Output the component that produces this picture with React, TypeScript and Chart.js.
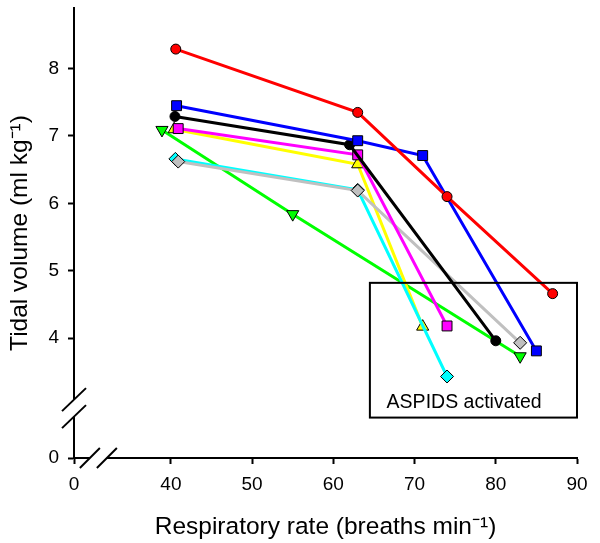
import React, { useEffect, useRef } from 'react';
import { Chart, registerables } from 'chart.js';

Chart.register(...registerables);

// ---------- data ----------
const redX = [40.6, 63.0, 74.0, 87.0];
const redY = [8.29, 7.35, 6.1, 4.66];
const blueX = [40.7, 63.0, 71.0, 85.0];
const blueY = [7.45, 6.93, 6.71, 3.81];
const blackX = [40.5, 62.0, 80.0];
const blackY = [7.29, 6.87, 3.96];
const magentaX = [40.9, 63.0, 74.0];
const magentaY = [7.11, 6.72, 4.18];
const grayX = [40.9, 63.0, 83.0];
const grayY = [6.62, 6.19, 3.93];
const cyanX = [40.55, 63.0, 74.0];
const cyanY = [6.66, 6.2, 3.43];
const yellowX = [40.4, 63.0, 71.0];
const yellowY = [7.1, 6.58, 4.17];
const greenX = [38.9, 55.0, 83.0];
const greenY = [7.09, 5.84, 3.73];

const xTickValues = [0, 40, 50, 60, 70, 80, 90];
const yTickValues = [0, 4, 5, 6, 7, 8];

const xTitle = 'Respiratory rate (breaths min\u207B\u00B9)';
const yTitle = 'Tidal volume (ml kg\u207B\u00B9)';
const boxLabel = 'ASPIDS activated';
const boxX = [64.5, 90];
const boxY = [2.82, 4.82];
const boxLabelX = 76.1;
const boxLabelY = 3.04;

// ---------- broken-axis mapping ----------
const X_ZERO_AT = 28.07; // display position of x = 0 (axis break)
const Y_ZERO_AT = 2.22; // display position of y = 0 (axis break)
const X_MAX = 90;
const Y_MAX = 8.9;
const X_BREAK_AT = 31.07;
const Y_BREAK_AT = 2.96;

const toDX = (v: number) => (v === 0 ? X_ZERO_AT : v);
const toDY = (v: number) => (v === 0 ? Y_ZERO_AT : v);

const FONT = "'Liberation Sans', Arial, Helvetica, sans-serif";

const pts = (xs: number[], ys: number[]) => xs.map((x, i) => ({ x, y: ys[i] }));

function ds(label: string, xs: number[], ys: number[], color: string, style: string, radius: number, rotation = 0) {
  return {
    label,
    data: pts(xs, ys),
    borderColor: color,
    backgroundColor: color,
    borderWidth: 3,
    pointStyle: style,
    pointRadius: radius,
    pointRotation: rotation,
    pointBackgroundColor: color,
    pointBorderColor: '#000',
    pointBorderWidth: 1,
    showLine: true,
    tension: 0,
    fill: false,
  };
}

const extrasPlugin = {
  id: 'extras',
  afterDraw(chart: any) {
    const { ctx, scales } = chart;
    const x = scales.x;
    const y = scales.y;
    ctx.save();
    // annotation box
    const bx0 = x.getPixelForValue(boxX[0]);
    const bx1 = x.getPixelForValue(boxX[1]);
    const by0 = y.getPixelForValue(boxY[1]);
    const by1 = y.getPixelForValue(boxY[0]);
    ctx.strokeStyle = '#000';
    ctx.lineWidth = 2;
    ctx.strokeRect(bx0, by0, bx1 - bx0, by1 - by0);
    ctx.fillStyle = '#000';
    ctx.font = `19.5px ${FONT}`;
    ctx.textAlign = 'center';
    ctx.textBaseline = 'middle';
    ctx.fillText(boxLabel, x.getPixelForValue(boxLabelX), y.getPixelForValue(boxLabelY));

    // y-axis break
    const ax = x.left;
    const yb = y.getPixelForValue(Y_BREAK_AT);
    ctx.fillStyle = '#fff';
    ctx.fillRect(ax - 3, yb - 8.5, 6, 17);
    ctx.strokeStyle = '#000';
    ctx.lineWidth = 2;
    for (const d of [-8.5, 8.5]) {
      ctx.beginPath();
      ctx.moveTo(ax - 12, yb + d + 11.5);
      ctx.lineTo(ax + 12, yb + d - 11.5);
      ctx.stroke();
    }
    // x-axis break
    const ay = y.bottom;
    const xb = x.getPixelForValue(X_BREAK_AT);
    ctx.fillStyle = '#fff';
    ctx.fillRect(xb - 8.5, ay - 3, 17, 6);
    for (const d of [-8.5, 8.5]) {
      ctx.beginPath();
      ctx.moveTo(xb + d - 10, ay + 10);
      ctx.lineTo(xb + d + 10, ay - 10);
      ctx.stroke();
    }
    ctx.restore();
  },
};

export default function App() {
  const ref = useRef<HTMLCanvasElement | null>(null);
  useEffect(() => {
    if (!ref.current) return;
    const chart = new Chart(ref.current, {
      type: 'line',
      data: {
        datasets: [
          ds('Red', redX, redY, '#ff0000', 'circle', 5),
          ds('Blue', blueX, blueY, '#0000ff', 'rect', 7),
          ds('Black', blackX, blackY, '#000000', 'circle', 5),
          ds('Magenta', magentaX, magentaY, '#ff00ff', 'rect', 7),
          ds('Gray', grayX, grayY, '#c0c0c0', 'rectRot', 6.5),
          ds('Cyan', cyanX, cyanY, '#00ffff', 'rectRot', 6.5),
          ds('Yellow', yellowX, yellowY, '#ffff00', 'triangle', 7),
          ds('Green', greenX, greenY, '#00ff00', 'triangle', 7, 180),
        ] as any,
      },
      options: {
        animation: false,
        responsive: false,
        maintainAspectRatio: false,
        layout: { padding: { top: 5, right: 23, left: 0, bottom: 0 } },
        plugins: { legend: { display: false }, tooltip: { enabled: false } },
        scales: {
          x: {
            type: 'linear',
            min: X_ZERO_AT,
            max: X_MAX,
            afterBuildTicks: (s: any) => {
              s.ticks = xTickValues.map((v) => ({ value: toDX(v) }));
            },
            afterFit: (s: any) => {
              s.height = 85;
              s.paddingLeft = 0;
              s.paddingRight = 0;
            },
            grid: { display: true, drawOnChartArea: false, drawTicks: true, tickLength: 6, tickWidth: 2, tickColor: '#000' },
            border: { display: true, color: '#000', width: 2 },
            ticks: {
              color: '#000',
              font: { family: FONT, size: 19 },
              padding: 9,
              autoSkip: false,
              maxRotation: 0,
              callback: (_v: any, i: number) => String(xTickValues[i]),
            },
            title: {
              display: true,
              text: xTitle,
              color: '#000',
              font: { family: FONT, size: 24.5, lineHeight: 1 },
              padding: { top: 0, bottom: 4 },
            },
          },
          y: {
            type: 'linear',
            min: Y_ZERO_AT,
            max: Y_MAX,
            afterBuildTicks: (s: any) => {
              s.ticks = yTickValues.map((v) => ({ value: toDY(v) }));
            },
            afterFit: (s: any) => {
              s.width = 74;
              s.paddingTop = 0;
              s.paddingBottom = 0;
            },
            grid: { display: true, drawOnChartArea: false, drawTicks: true, tickLength: 6, tickWidth: 2, tickColor: '#000' },
            border: { display: true, color: '#000', width: 2 },
            ticks: {
              color: '#000',
              font: { family: FONT, size: 19 },
              padding: 9,
              autoSkip: false,
              callback: (_v: any, i: number) => String(yTickValues[i]),
            },
            title: {
              display: true,
              text: yTitle,
              color: '#000',
              font: { family: FONT, size: 24.5, lineHeight: 1 },
              padding: { top: 8, bottom: 0 },
            },
          },
        },
      } as any,
      plugins: [extrasPlugin],
    });
    return () => chart.destroy();
  }, []);
  return (
    <div style={{ position: 'absolute', left: 0, top: 0, width: 600, height: 543, background: '#fff' }}>
      <canvas ref={ref} width={600} height={543} />
    </div>
  );
}
